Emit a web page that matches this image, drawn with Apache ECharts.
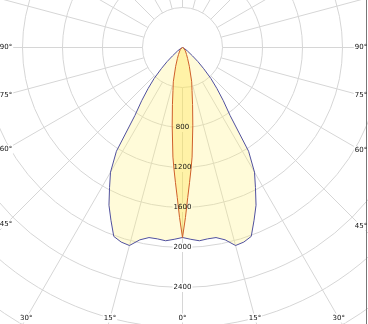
<!DOCTYPE html>
<html><head><meta charset="utf-8">
<script src="https://cdn.jsdelivr.net/npm/echarts@6/dist/echarts.min.js"></script>
<style>html,body{margin:0;padding:0;background:#fff}#c{width:368px;height:324px}</style>
</head><body><div id="c"></div>
<script>
// Gamma angles (degrees from nadir) and luminous intensity (cd) — curves are symmetric
const wideAngles   = [0, 2.5, 5, 7.5, 10, 12.5, 15, 17.5, 20, 22.5, 25, 27.5, 30, 32.5, 35, 37.5, 40, 42.5, 45, 47.5, 50, 55, 60, 70, 80, 90];
const wideValues   = [1900, 1920, 1940, 1930, 1930, 1970, 2050, 2040, 2010, 1870, 1740, 1580, 1440, 1230, 830, 670, 535, 420, 300, 210, 130, 60, 25, 5, 0, 0];
const narrowAngles = [0, 1, 2, 3, 4, 5, 7.5, 10, 12.5, 15, 20, 25, 30, 40, 50, 60, 70, 80, 90];
const narrowValues = [1900, 1700, 1500, 1350, 1220, 1100, 790, 580, 440, 355, 200, 120, 80, 45, 28, 15, 8, 3, 0];
const radiusTicks  = [800, 1200, 1600, 2000, 2400];
const sideAngleLabels   = [90, 75, 60, 45];
const bottomAngleLabels = [30, 15, 0];

const CENTER = [182.5, 47.5];
const chart = echarts.init(document.getElementById('c'), null, {renderer: 'canvas'});

function mirror(angles, values) {
  const pts = [];
  for (let i = angles.length - 1; i >= 0; i--) pts.push([values[i], angles[i]]);
  for (let i = 1; i < angles.length; i++) pts.push([values[i], 360 - angles[i]]);
  return pts;
}

const grid = '#d6d6d6';
chart.setOption({
  animation: false,
  polar: [
    {center: CENTER, radius: [40, 360]},
    {center: CENTER, radius: [0, 360]}
  ],
  angleAxis: [
    {polarIndex: 0, type: 'value', min: 0, max: 360, interval: 15, startAngle: 270, clockwise: true, z: 0,
     axisLine: {show: false}, axisTick: {show: false}, axisLabel: {show: false},
     splitLine: {show: true, lineStyle: {color: grid, width: 1}}},
    {polarIndex: 1, type: 'value', min: 0, max: 360, startAngle: 270, clockwise: true, z: 0,
     axisLine: {show: false}, axisTick: {show: false}, axisLabel: {show: false}, splitLine: {show: false}}
  ],
  radiusAxis: [
    {polarIndex: 0, type: 'value', min: 400, max: 3600, interval: 400, z: 0,
     axisLine: {show: false}, axisTick: {show: false}, axisLabel: {show: false},
     splitLine: {show: true, lineStyle: {color: grid, width: 1}}},
    {polarIndex: 1, type: 'value', min: 0, max: 3600, z: 0,
     axisLine: {show: false}, axisTick: {show: false}, axisLabel: {show: false}, splitLine: {show: false}}
  ],
  series: [
    {type: 'line', coordinateSystem: 'polar', polarIndex: 1, data: mirror(wideAngles, wideValues),
     symbol: 'none', silent: true, z: 5,
     lineStyle: {color: '#50509e', width: 1},
     areaStyle: {color: 'rgba(255,240,120,0.4)'}},
    {type: 'line', coordinateSystem: 'polar', polarIndex: 1, data: mirror(narrowAngles, narrowValues),
     symbol: 'none', silent: true, z: 6,
     lineStyle: {color: '#cf5f2a', width: 1},
     areaStyle: {color: 'rgba(255,225,60,0.45)'}}
  ]
});

// text overlay positioned through the polar coordinate system
const toPx = (r, a) => chart.convertToPixel({seriesIndex: 0}, [r, a]);
const c = toPx(0, 0);
const font = '7px "DejaVu Sans"';
const els = [];
function label(txt, x, y) {
  // white knock-out box below the fills, crisp text above them
  els.push({type: 'text', x: x, y: y, z: 1, silent: true,
    style: {text: txt, font: font, fill: 'rgba(0,0,0,0)', align: 'center', verticalAlign: 'middle',
            backgroundColor: '#fff', padding: [1, 1]}});
  els.push({type: 'text', x: x, y: y, z: 20, silent: true,
    style: {text: txt, font: font, fill: '#111', align: 'center', verticalAlign: 'middle', padding: [1, 1]}});
}
radiusTicks.forEach(v => {
  const p = toPx(v, 0);
  label(String(v), p[0], p[1]);
});
const W = 368, H = 324;
function dir(a) { const p = toPx(3000, a); return [(p[0] - c[0]) / 3000, (p[1] - c[1]) / 3000]; }
sideAngleLabels.forEach(a => {
  [a, 360 - a].forEach((aa, k) => {
    const d = dir(aa);
    const x = k === 0 ? 6 : W - 7;
    const t = (x - c[0]) / d[0];
    label(a + '°', x, c[1] + t * d[1]);
  });
});
bottomAngleLabels.forEach(a => {
  (a === 0 ? [0] : [a, 360 - a]).forEach(aa => {
    const d = dir(aa);
    const y = 318;
    const t = (y - c[1]) / d[1];
    label(a + '°', c[0] + t * d[0], y);
  });
});
els.push({type: 'line', z: 10, shape: {x1: W - 1.5, y1: 0, x2: W - 1.5, y2: H}, style: {stroke: '#777', lineWidth: 1}});
chart.setOption({graphic: {elements: els}});
</script>
</body></html>
